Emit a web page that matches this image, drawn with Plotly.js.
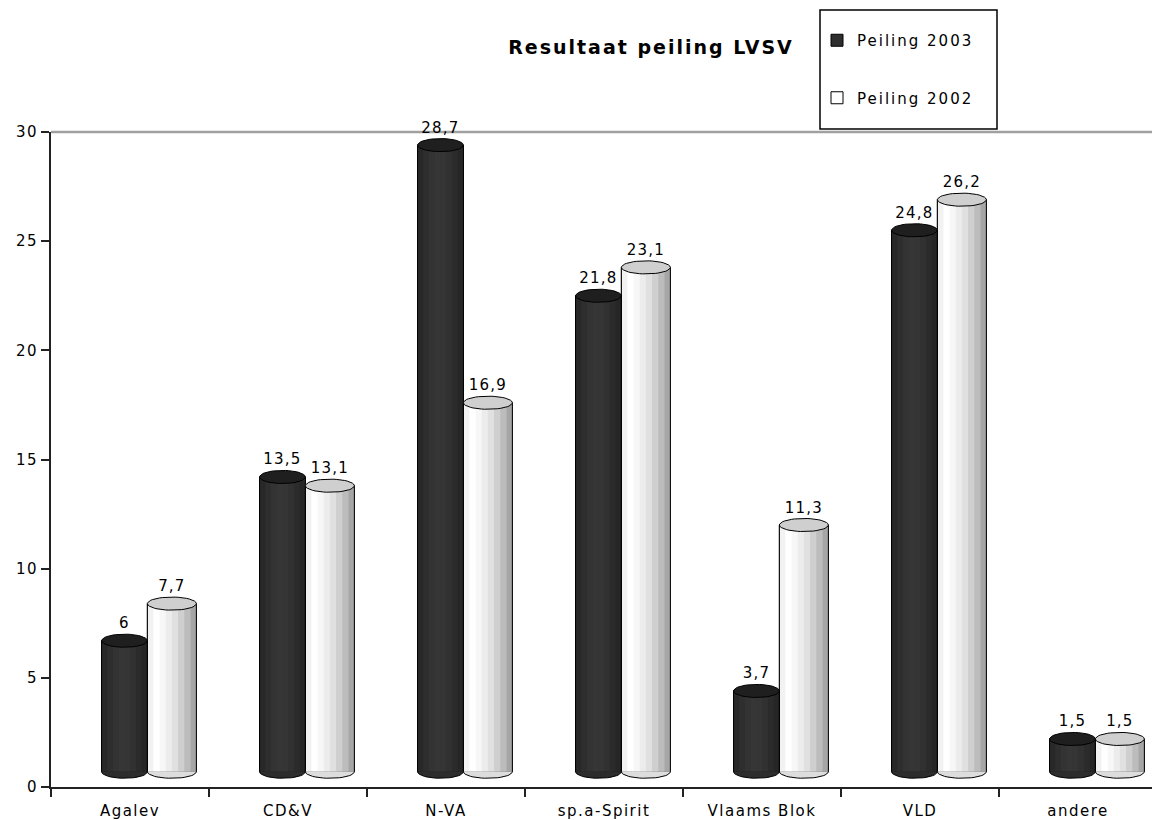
<!DOCTYPE html>
<html><head><meta charset="utf-8">
<script src="https://cdn.plot.ly/plotly-3.0.1.min.js"></script>
<style>
body{margin:0;background:#fff}
#chart{width:1152px;height:820px}
#chart .xtick text, #chart .ytick text { letter-spacing: 1.5px; }
#chart .legendtext { letter-spacing: 2px; }
#chart .legend g { clip-path: none !important; }
#chart .gtitle { letter-spacing: 2px; }
#chart .textpoint text { letter-spacing: 1.2px; }
</style>
</head><body><div id="chart"></div>
<script>
// ---- data ----
const categories = ['Agalev', 'CD&V', 'N-VA', 'sp.a-Spirit', 'Vlaams Blok', 'VLD', 'andere'];
const peiling2003 = [6, 13.5, 28.7, 21.8, 3.7, 24.8, 1.5];
const peiling2002 = [7.7, 13.1, 16.9, 23.1, 11.3, 26.2, 1.5];
const seriesNames = ['Peiling 2003', 'Peiling 2002'];
const yTicks = [0, 5, 10, 15, 20, 25, 30];

// ---- styling ----
const FONT = 'DejaVu Sans, Verdana, sans-serif';
const DEPTH = 0.7;   // 3D lift of the cylinders above the floor (value units)
const RY = 0.3;      // vertical radius of the cylinder ends (value units)
const idx = categories.map((c, i) => i);
const fmt = v => String(v).replace('.', ',');

const series = [
  { name: seriesNames[0], values: peiling2003, offset: -0.18, width: 0.29,
    legendColor: '#2e2e2e', topColor: '#1f1f1f', bottomColor: '#2c2c2c',
    strips: ['#282828', '#2e2e2e', '#333333', '#363636', '#353535', '#313131', '#2b2b2b', '#262626'] },
  { name: seriesNames[1], values: peiling2002, offset: 0.11, width: 0.31,
    legendColor: '#ffffff', topColor: '#cfcfcf', bottomColor: '#dddddd',
    strips: ['#f2f2f2', '#ffffff', '#f7f7f7', '#ececec', '#e0e0e0', '#cfcfcf', '#bcbcbc', '#a6a6a6'] }
];

const traces = [];
// main bar per series (carries the legend)
series.forEach((s, si) => {
  traces.push({
    type: 'bar', name: s.name, x: idx, y: s.values, base: DEPTH,
    offset: s.offset, width: s.width, legendgroup: 'g' + si,
    marker: { color: s.legendColor, line: { color: '#000', width: 1 } },
    hoverinfo: 'skip'
  });
});
// shading strips
series.forEach(s => {
  const K = s.strips.length;
  const sw = s.width / K;
  s.strips.forEach((col, k) => {
    traces.push({
      type: 'bar', x: idx, y: s.values, base: DEPTH,
      offset: s.offset + k * sw, width: sw + 0.002, showlegend: false,
      marker: { color: col, line: { width: 0 } }, hoverinfo: 'skip'
    });
  });
});
// bottom half ellipses, edges, top ellipses
series.forEach(s => {
  const rx = s.width / 2;
  s.values.forEach((v, i) => {
    const cx = i + s.offset + rx;
    const bx = [], by = [];
    for (let t = 0; t <= 24; t++) {
      const a = Math.PI + Math.PI * t / 24;
      bx.push(cx + rx * Math.cos(a)); by.push(DEPTH + RY * Math.sin(a));
    }
    traces.push({ type: 'scatter', mode: 'lines', x: bx, y: by, fill: 'toself',
      fillcolor: s.bottomColor, line: { color: '#000', width: 1 }, showlegend: false, hoverinfo: 'skip' });
  });
  const ex = [], ey = [];
  s.values.forEach((v, i) => {
    const l = i + s.offset, r = l + s.width;
    ex.push(l, l, null, r, r, null);
    ey.push(DEPTH, DEPTH + v, null, DEPTH, DEPTH + v, null);
  });
  traces.push({ type: 'scatter', mode: 'lines', x: ex, y: ey, line: { color: '#000', width: 1 },
    showlegend: false, hoverinfo: 'skip', connectgaps: false });
  s.values.forEach((v, i) => {
    const cx = i + s.offset + rx, cy = DEPTH + v;
    const tx = [], ty = [];
    for (let t = 0; t <= 48; t++) {
      const a = 2 * Math.PI * t / 48;
      tx.push(cx + rx * Math.cos(a)); ty.push(cy + RY * Math.sin(a));
    }
    traces.push({ type: 'scatter', mode: 'lines', x: tx, y: ty, fill: 'toself',
      fillcolor: s.topColor, line: { color: '#000', width: 1 }, showlegend: false, hoverinfo: 'skip' });
  });
});
// value labels
series.forEach(s => {
  traces.push({
    type: 'scatter', mode: 'text', x: idx.map(i => i + s.offset + s.width / 2),
    y: s.values.map(v => v + DEPTH + RY + 0.1), text: s.values.map(fmt),
    textposition: 'top center', textfont: { family: FONT, size: 15, color: '#000' },
    cliponaxis: false, showlegend: false, hoverinfo: 'skip'
  });
});

const L = 51, T = 132, B = 33, W = 1152, H = 820;
const pw = W - L, ph = H - T - B;
const layout = {
  width: W, height: H, autosize: false,
  margin: { l: L, r: 0, t: T, b: B, pad: 0 },
  paper_bgcolor: '#fff', plot_bgcolor: '#fff',
  barmode: 'overlay',
  font: { family: FONT, size: 15, color: '#000' },
  title: { text: 'Resultaat peiling LVSV', font: { family: FONT, size: 19, color: '#000', weight: 'bold' },
    xref: 'container', yref: 'container', x: 651 / W, y: 1 - 47 / H, xanchor: 'center', yanchor: 'middle' },
  xaxis: {
    range: [-0.5, -0.5 + pw / 158], tickmode: 'array', tickvals: idx, ticktext: categories,
    ticks: '', showgrid: false, zeroline: false, showline: true, linecolor: '#222', linewidth: 2,
    tickfont: { family: FONT, size: 15 }, ticklabelstandoff: 9,
    minor: { tickmode: 'array', tickvals: idx.concat([idx.length]).map(i => i - 0.5), ticks: 'outside',
      ticklen: 8, tickwidth: 2, tickcolor: '#222', showgrid: false }
  },
  yaxis: {
    range: [0, 30], tickmode: 'array', tickvals: yTicks, ticks: 'outside', ticklen: 8, tickwidth: 2,
    tickcolor: '#222', showline: true, linecolor: '#222', linewidth: 2, showgrid: false, zeroline: false,
    tickfont: { family: FONT, size: 15 }
  },
  showlegend: true,
  legend: {
    x: (817 - L) / pw, xanchor: 'left', y: 1 + (T - 24) / ph, yanchor: 'top',
    bgcolor: 'rgba(0,0,0,0)', borderwidth: 0, font: { family: FONT, size: 15 },
    traceorder: 'grouped', tracegroupgap: 35, itemwidth: 30
  },
  shapes: [
    { type: 'line', xref: 'paper', yref: 'paper', x0: 0, x1: 1, y0: 1, y1: 1,
      line: { color: '#a0a0a0', width: 2.5 }, layer: 'below' },
    { type: 'rect', xref: 'paper', yref: 'paper', x0: (820 - L) / pw, x1: (997 - L) / pw,
      y0: 1 + (T - 129) / ph, y1: 1 + (T - 10) / ph, line: { color: '#000', width: 1.5 } }
  ]
};

Plotly.newPlot('chart', traces, layout, { staticPlot: true, displayModeBar: false });
</script>
</body></html>
